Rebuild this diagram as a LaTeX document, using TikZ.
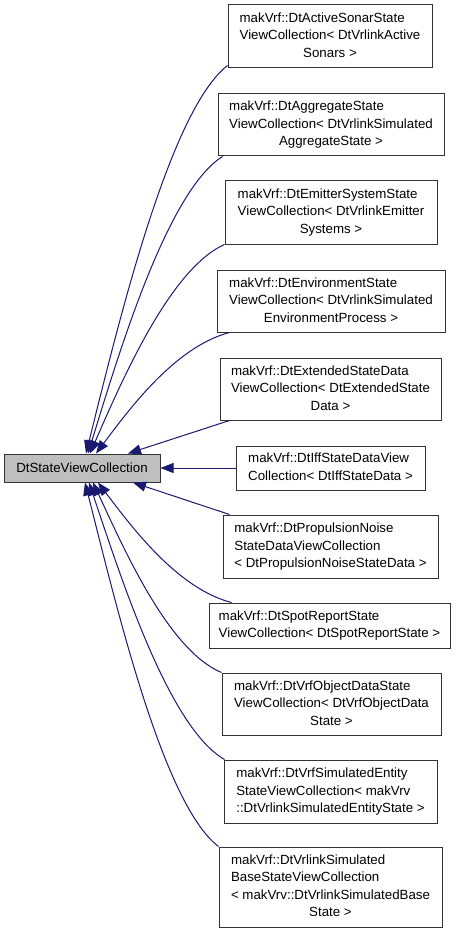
\documentclass[tikz,border=0pt]{standalone}
\usepackage{fontspec}
\setmainfont{Liberation Sans}
\usetikzlibrary{arrows.meta}
\definecolor{edgecol}{HTML}{191970}
\definecolor{mainfill}{HTML}{BFBFBF}
\newcommand\dlab[2]{\begin{tabular}{@{}l@{}}#1\\\multicolumn{1}{@{}c@{}}{#2}\end{tabular}}
\begin{document}
\begin{tikzpicture}[x=1pt,y=-1pt,
 cls/.style={draw=black!80, line width=1pt, fill=white, inner sep=0pt, font=\fontsize{13.3}{17.5}\selectfont},
 inh/.style={draw=edgecol, line width=1pt, -{Triangle[length=13pt,width=10pt,fill=edgecol]}}]
\useasboundingbox (0,0) rectangle (459,933);
\node[cls, fill=mainfill, minimum width=156pt, minimum height=28pt] (main) at (82,468) {DtStateViewCollection};
\node[cls, minimum width=204pt, minimum height=63pt] (b1) at (330,36.5) {\dlab{makVrf::DtActiveSonarState\\ViewCollection< DtVrlinkActive}{Sonars >}};
\node[cls, minimum width=226pt, minimum height=62pt] (b2) at (331,125) {\dlab{makVrf::DtAggregateState\\ViewCollection< DtVrlinkSimulated}{AggregateState >}};
\node[cls, minimum width=212pt, minimum height=63pt] (b3) at (331,212.5) {\dlab{makVrf::DtEmitterSystemState\\ViewCollection< DtVrlinkEmitter}{Systems >}};
\node[cls, minimum width=228pt, minimum height=62pt] (b4) at (331,301) {\dlab{makVrf::DtEnvironmentState\\ViewCollection< DtVrlinkSimulated}{EnvironmentProcess >}};
\node[cls, minimum width=221pt, minimum height=62pt] (b5) at (330.5,389) {\dlab{makVrf::DtExtendedStateData\\ViewCollection< DtExtendedState}{Data >}};
\node[cls, minimum width=189pt, minimum height=44pt] (b6) at (330.5,468) {\dlab{makVrf::DtIffStateDataView}{Collection< DtIffStateData >}};
\node[cls, minimum width=215pt, minimum height=63pt] (b7) at (330.5,546.5) {\dlab{makVrf::DtPropulsionNoise\\StateDataViewCollection}{< DtPropulsionNoiseStateData >}};
\node[cls, minimum width=241pt, minimum height=45pt] (b8) at (329.5,625.5) {\dlab{makVrf::DtSpotReportState}{ViewCollection< DtSpotReportState >}};
\node[cls, minimum width=219pt, minimum height=62pt] (b9) at (331.5,704) {\dlab{makVrf::DtVrfObjectDataState\\ViewCollection< DtVrfObjectData}{State >}};
\node[cls, minimum width=213pt, minimum height=63pt] (b10) at (330.5,791.5) {\dlab{makVrf::DtVrfSimulatedEntity\\StateViewCollection< makVrv}{::DtVrlinkSimulatedEntityState >}};
\node[cls, minimum width=223pt, minimum height=80pt] (b11) at (330.5,887) {\dlab{makVrf::DtVrlinkSimulated\\BaseStateViewCollection\\< makVrv::DtVrlinkSimulatedBase}{State >}};
\draw[inh] ([yshift=3pt]b1.south west) .. controls +(-57.8,45.1) and +(33.3,-133.8) .. ([xshift=4pt]main.north);
\draw[inh] ([xshift=5pt]b2.south west) .. controls +(-54.9,34.7) and +(31.6,-102.9) .. ([xshift=6pt]main.north);
\draw[inh] (b3.south west) .. controls +(-54.5,24.2) and +(31.4,-71.9) .. ([xshift=8pt]main.north);
\draw[inh] ([xshift=13pt]b4.south west) .. controls +(-54.9,14.2) and +(31.6,-42) .. ([xshift=14pt]main.north);
\draw[inh] ([xshift=10pt]b5.south west) -- ([xshift=46pt]main.north);
\draw[inh] (b6.west) -- (main.east);
\draw[inh] ([xshift=7pt]b7.north west) -- ([xshift=51pt]main.south);
\draw[inh] ([xshift=23pt]b8.north west) .. controls +(-54.9,-14) and +(31.6,41.6) .. ([xshift=16pt]main.south);
\draw[inh] (b9.north west) .. controls +(-53.3,-22.2) and +(30.7,65.7) .. ([xshift=11pt]main.south);
\draw[inh] ([xshift=1pt]b10.north west) .. controls +(-55.8,-32.2) and +(32.1,95.6) .. ([xshift=7pt]main.south);
\draw[inh] (b11.north west) .. controls +(-55.4,-42.3) and +(31.9,125.6) .. ([xshift=3pt]main.south);
\end{tikzpicture}
\end{document}
